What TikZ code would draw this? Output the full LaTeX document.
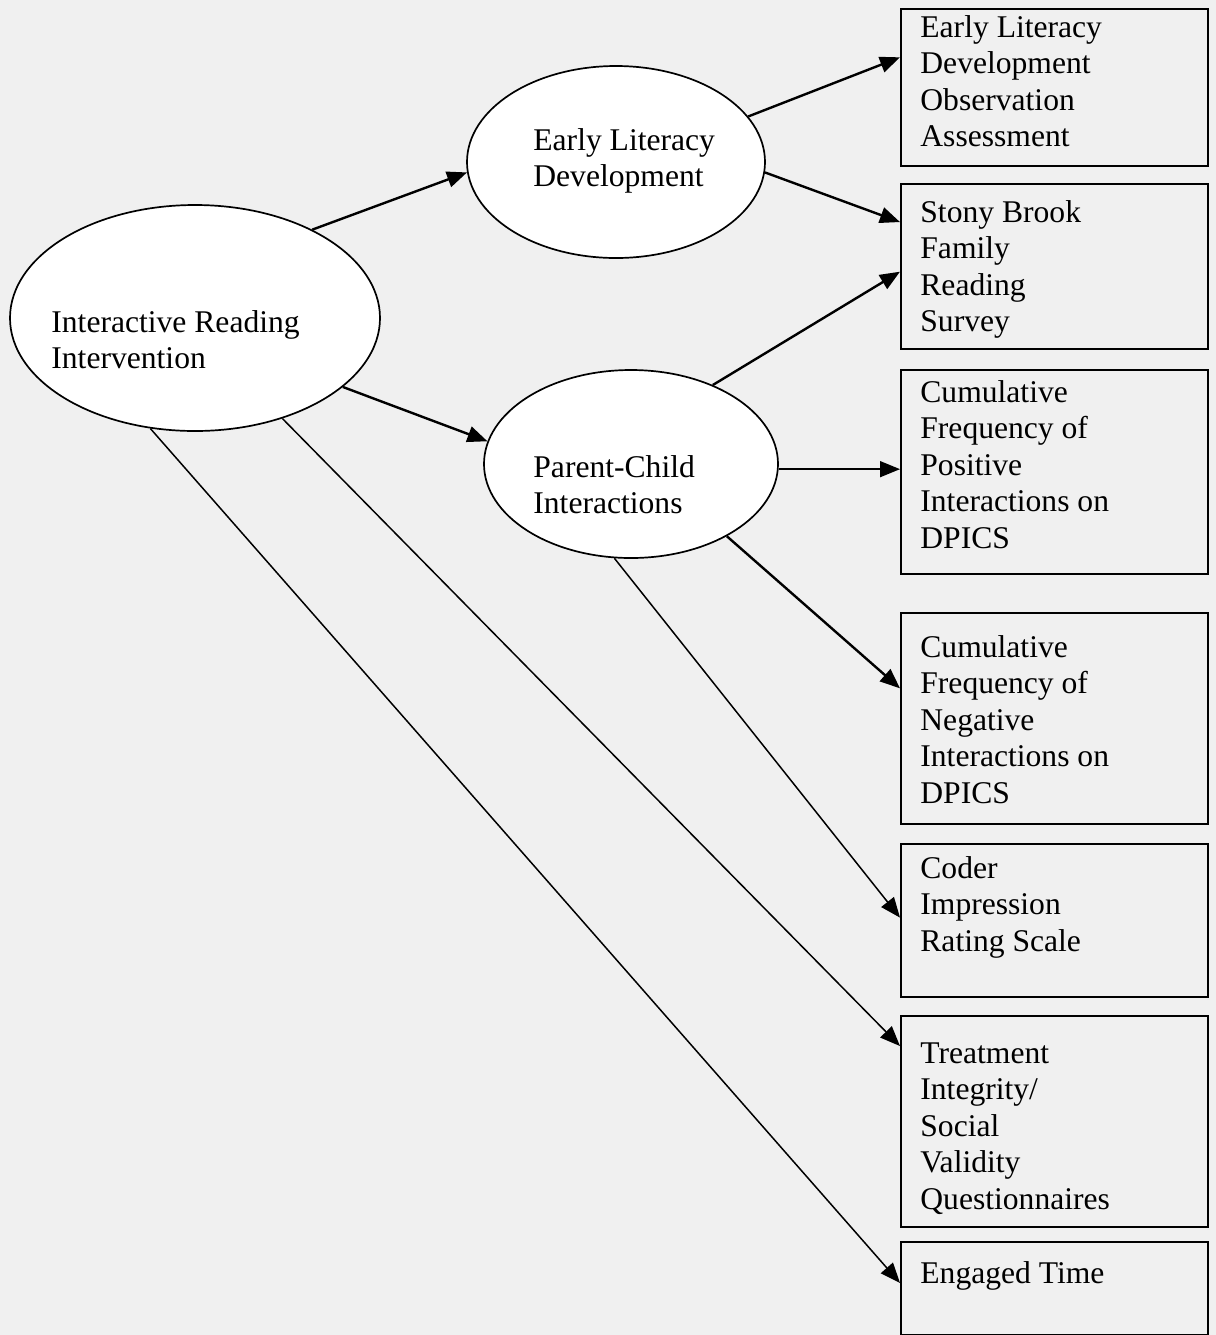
\documentclass[tikz,border=0pt]{standalone}
\usepackage{fontspec}
\setmainfont{Liberation Serif}
\usetikzlibrary{arrows.meta,shapes.geometric}
\tikzset{
	oval/.style={ellipse, draw, line width=0.85pt, fill=white, inner sep=0pt},
	measure/.style={rectangle, draw, line width=0.8pt, anchor=north west, minimum width=153.5pt, inner sep=0pt},
	lbl/.style={anchor=base west, align=left, inner sep=0pt, font=\fontsize{15.8}{18.25}\selectfont},
	arr/.style={line width=1.2pt, -{Triangle[length=10pt,width=8pt]}},
	thinarr/.style={line width=0.75pt, -{Triangle[length=10pt,width=8pt]}}
}

\begin{document}
\begin{tikzpicture}[x=0.5pt, y=-0.5pt]
		%%%%% START %%%%%
		
		\useasboundingbox (0, 0) rectangle (1216, 1335);
		\fill[black!6] (0, 0) rectangle (1216, 1335);
		
		\node[oval, minimum width=185pt, minimum height=113pt] (iri) at (195, 318) {};
		\node[oval, minimum width=149pt, minimum height=96pt] (eld) at (616, 162) {};
		\node[oval, minimum width=147pt, minimum height=94pt] (pci) at (631, 464) {};
		
		% text nodes sit on the baseline of their last line
		\node[lbl] (iriTxt) at (51, 368.5) {Interactive Reading\\Intervention};
		\node[lbl] (eldTxt) at (533, 186.5) {Early Literacy\\Development};
		\node[lbl] (pciTxt) at (533, 513.5) {Parent-Child\\Interactions};
		
		\node[measure, minimum height=78.5pt] (b1) at (900, 8) {};
		\node[measure, minimum height=82.5pt] (b2) at (900, 183) {};
		\node[measure, minimum height=102pt] (b3) at (900, 369) {};
		\node[measure, minimum height=105.5pt] (b4) at (900, 612) {};
		\node[measure, minimum height=76.5pt] (b5) at (900, 843) {};
		\node[measure, minimum height=105.5pt] (b6) at (900, 1015) {};
		\node[measure, minimum height=46.5pt] (b7) at (900, 1241) {};
		
		\node[lbl] (b1Txt) at (920, 146.5) {Early Literacy\\Development\\Observation\\Assessment};
		\node[lbl] (b2Txt) at (920, 331.5) {Stony Brook\\Family\\Reading\\Survey};
		\node[lbl] (b3Txt) at (920, 548) {Cumulative\\Frequency of\\Positive\\Interactions on\\DPICS};
		\node[lbl] (b4Txt) at (920, 803) {Cumulative\\Frequency of\\Negative\\Interactions on\\DPICS};
		\node[lbl] (b5Txt) at (920, 951) {Coder\\Impression\\Rating Scale};
		\node[lbl] (b6Txt) at (920, 1209) {Treatment\\Integrity/\\Social\\Validity\\Questionnaires};
		\node[lbl] (b7Txt) at (920, 1283) {Engaged Time};
		
		\draw[arr] (iri.37) -- (eld.184);
		\draw[arr] (iri.-25) -- (pci.171);
		
		\draw[arr] (eld.19) -- (b1.169.5);
		\draw[arr] (eld.-4) -- (b2.164.2);
		\draw[arr] (pci.44) -- (b2.182.4);
		\draw[thinarr] (pci.-2) -- (pci.-2 -| b3.west);
		\draw[arr] (pci.-37.6) -- (b4.169.1);
		\draw[thinarr] (pci.-100.8) -- (b5.179);
		
		\draw[thinarr] (iri.-49.2) -- (b6.154.4);
		\draw[thinarr] (iri.-112.8) -- (b7.178.5);
		
		%%%%% END %%%%%
	\end{tikzpicture}
\end{document}
